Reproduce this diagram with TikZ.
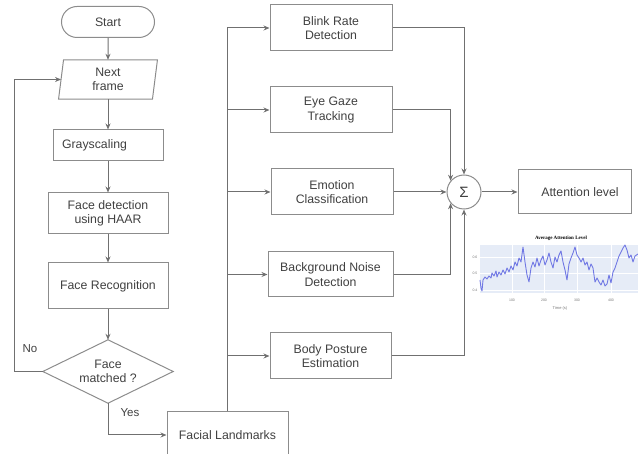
\documentclass[tikz,border=0pt]{standalone}
\usepackage{fontspec}
\setmainfont{Liberation Sans}
\newfontfamily\serifb{Liberation Serif}
\usetikzlibrary{arrows.meta,shapes.misc,calc}
\definecolor{linec}{HTML}{707070}
\definecolor{boxc}{HTML}{8C8C8C}
\definecolor{txtc}{HTML}{404040}
\definecolor{plotbg}{HTML}{E6ECF7}
\definecolor{tracec}{HTML}{7078E4}
\definecolor{tickc}{HTML}{777777}
\begin{document}
\begin{tikzpicture}[x=1pt,y=-1pt,
  every node/.style={text=txtc, font=\fontsize{12.3}{14.5}\selectfont},
  box/.style={draw=boxc, line width=1pt, rectangle, inner sep=0pt, align=center},
  conn/.style={draw=linec, line width=1pt},
  arr/.style={conn, -{Stealth[length=6pt,width=5pt]}},
  lbl/.style={font=\fontsize{11.5}{13}\selectfont},
  tick/.style={text=tickc, font=\fontsize{3.5}{4}\selectfont, inner sep=0pt},
]
\useasboundingbox (0,0) rectangle (638,454);

% left column
\node[box, rounded rectangle, minimum width=93pt, minimum height=31pt] (start) at (108,22) {Start};
\node[inner sep=0pt, minimum width=93.5pt, minimum height=39pt, align=center] (nf) at (108,79.5) {Next\\frame};
\draw[draw=boxc, line width=1pt] ($(nf.north west)+(2.5,0)$) -- ($(nf.north east)+(2.5,0)$) -- ($(nf.south east)+(-2.5,0)$) -- ($(nf.south west)+(-2.5,0)$) -- cycle;
\node[box, minimum height=31pt, text width=92pt, inner xsep=9pt, align=left] (gray) at (108,145.5) {Grayscaling};
\node[box, minimum width=120pt, minimum height=41pt] (fd) at (108,213.5) {Face detection\\using HAAR};
\node[box, minimum width=120pt, minimum height=46pt] (fr) at (108,286) {Face Recognition};
\node[inner sep=0pt, minimum width=130pt, minimum height=63pt, align=center] (dm) at (108,371.5) {Face\\matched ?};
\draw[draw=boxc, line width=1pt] (dm.west) -- (dm.north) -- (dm.east) -- (dm.south) -- cycle;
\node[box, minimum width=121pt, minimum height=46pt] (fl) at (227.5,435) {Facial Landmarks};

% right boxes
\node[box, minimum width=122pt, minimum height=46pt] (blink) at (331,28) {Blink Rate\\Detection};
\node[box, minimum width=122pt, minimum height=46pt] (eye) at (331,110) {Eye Gaze\\Tracking};
\node[box, minimum width=122pt, minimum height=46pt] (emo) at (332,192) {Emotion\\Classification};
\node[box, minimum width=125pt, minimum height=45pt] (bg) at (330.5,274.5) {Background Noise\\Detection};
\node[box, minimum width=121pt, minimum height=46pt] (body) at (330.5,356) {Body Posture\\Estimation};
\node[draw=boxc, line width=1pt, circle, minimum size=34pt, inner sep=0pt, font=\fontsize{15}{16}\selectfont] (sum) at (464,192) {Σ};
\node[box, minimum width=113pt, minimum height=44pt] (att) at (574.5,192) {\hspace*{11pt}Attention level};

% connectors left
\draw[arr] (start) -- (nf);
\draw[arr] (nf) -- (gray);
\draw[arr] (gray) -- (fd);
\draw[arr] (fd) -- (fr);
\draw[arr] (fr) -- (dm.north);
\coordinate (lp) at (14,371.5);
\draw[arr] (dm.west) -- (lp) |- (nf.west);
\node[lbl] (nolbl) at (30,349) {No};
\draw[arr] (dm.south) |- (fl.west);
\node[lbl] (yeslbl) at (130,413) {Yes};

% trunk
\draw[arr] (fl.north) |- (blink.west);
\draw[arr] (fl.north |- eye.west) -- (eye.west);
\draw[arr] (fl.north |- emo.west) -- (emo.west);
\draw[arr] (fl.north |- bg.west) -- (bg.west);
\draw[arr] (fl.north |- body.west) -- (body.west);

% to sum
\draw[arr] (blink.east) -| (sum.north);
\draw[arr] (eye.east) -| (sum.140);
\draw[arr] (emo.east) -- (sum.west);
\draw[arr] (bg.east) -| (sum.220);
\draw[arr] (body.east) -| (sum.south);
\draw[arr] (sum.east) -- (att.west);

% chart
\begin{scope}
\clip (0,0) rectangle (638,454);
\fill[plotbg] (480,245) rectangle (640,293);
\foreach \gx in {512,544,577,611} \draw[white, line width=0.6pt] (\gx,245) -- (\gx,293);
\foreach \gy in {257,273,290} \draw[white, line width=0.6pt] (480,\gy) -- (640,\gy);
\draw[tracec, line width=0.9pt, line join=round] plot coordinates {
(480,280) (481,288) (482,291) (483,280) (485,277) (487,279) (489,276) (491,278) (492,273) (494,276)
(496,271) (497,277) (499,272) (501,275) (503,270) (505,274) (507,268) (509,272) (511,266) (513,270)
(515,262) (517,266) (519,258) (521,262) (523,247) (525,262) (527,275) (529,282) (531,268) (533,262)
(535,267) (537,258) (539,266) (541,260) (543,256) (545,265) (547,260) (549,253) (551,262) (553,268)
(555,257) (557,262) (559,255) (561,251) (563,262) (565,270) (567,280) (569,264) (571,258) (573,253)
(575,247) (577,255) (579,258) (581,262) (583,258) (585,265) (587,262) (589,270) (591,264) (593,268)
(595,282) (597,278) (599,282) (601,285) (603,280) (605,286) (607,284) (609,275) (611,283) (613,272)
(615,268) (617,262) (619,256) (621,252) (623,248) (625,245) (627,250) (629,258) (631,255) (633,262)
(635,256) (638,254)};
\end{scope}
\node[inner sep=0pt, text=black, font=\serifb\bfseries\fontsize{5}{6}\selectfont] (ctitle) at (561,238) {Average Attention Level};
\node[tick] (y6) at (475,257) {0.6};
\node[tick] (y5) at (475,273) {0.5};
\node[tick] (y4) at (475,290) {0.4};
\node[tick] (x1) at (512,300) {100};
\node[tick] (x2) at (544,300) {200};
\node[tick] (x3) at (577,300) {300};
\node[tick] (x4) at (611,300) {400};
\node[tick, font=\fontsize{4}{5}\selectfont] (xlab) at (560,308) {Time (s)};
\end{tikzpicture}
\end{document}
